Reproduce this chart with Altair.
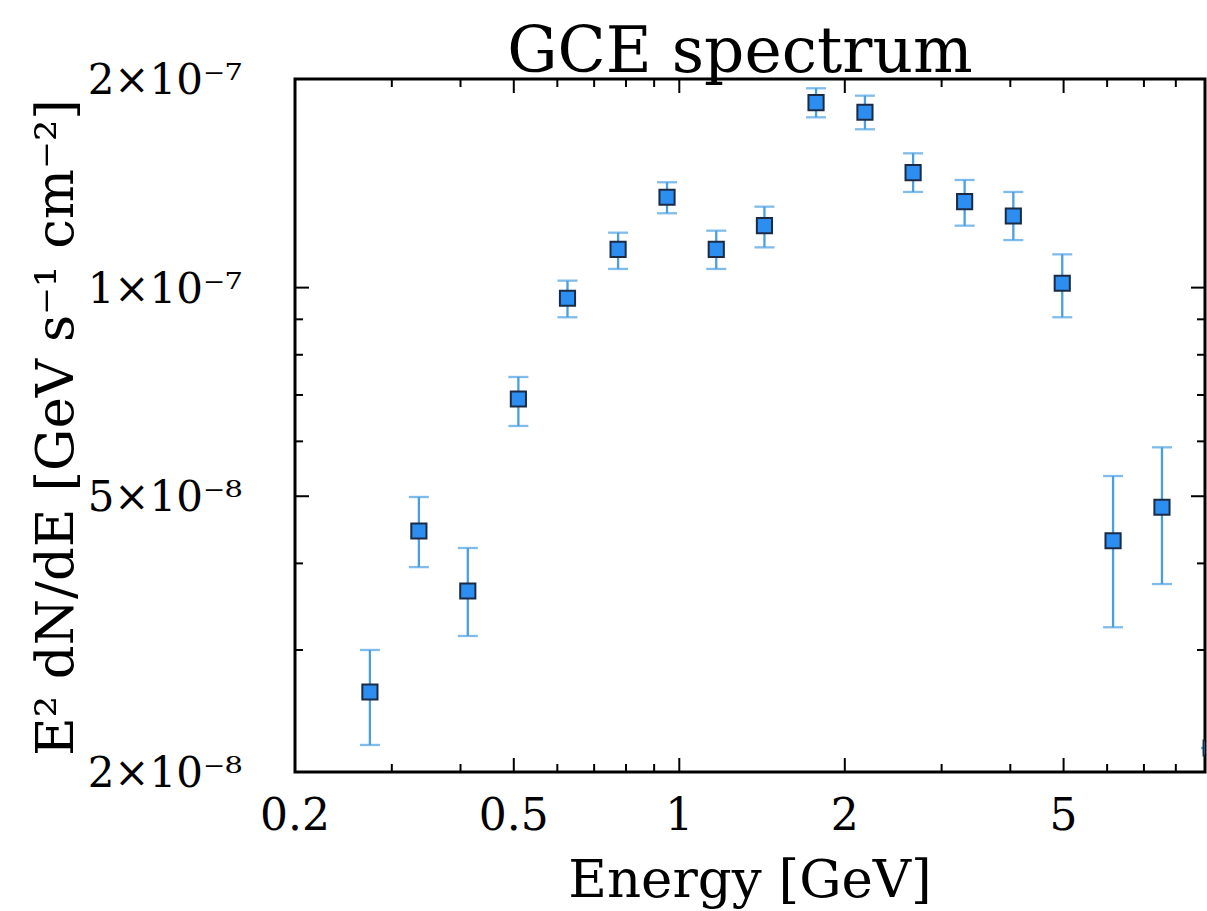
import altair as alt
import pandas as pd

# ---- data ----
energy = [0.2737, 0.3360, 0.4124, 0.5097, 0.6261, 0.7739, 0.9499, 1.1674, 1.4284,
          1.7730, 2.1760, 2.6623, 3.3036, 4.0508, 4.9720, 6.151, 7.549, 9.275]
flux = [2.609e-8, 4.454e-8, 3.649e-8, 6.906e-8, 9.653e-8, 1.1356e-7, 1.3502e-7, 1.1356e-7, 1.2285e-7,
        1.8485e-7, 1.7906e-7, 1.4650e-7, 1.3306e-7, 1.2688e-7, 1.0145e-7, 4.313e-8, 4.820e-8, 2.166e-8]
flux_lo = [2.188e-8, 3.951e-8, 3.143e-8, 6.315e-8, 9.062e-8, 1.0640e-7, 1.2802e-7, 1.0640e-7, 1.1431e-7,
           1.7610e-7, 1.6923e-7, 1.3741e-7, 1.2285e-7, 1.1712e-7, 9.062e-8, 3.235e-8, 3.735e-8, 2.166e-8]
flux_hi = [3.000e-8, 4.987e-8, 4.210e-8, 7.431e-8, 1.0234e-7, 1.2002e-7, 1.4191e-7, 1.2082e-7, 1.3086e-7,
           1.9394e-7, 1.8922e-7, 1.5624e-7, 1.4300e-7, 1.3741e-7, 1.1169e-7, 5.347e-8, 5.882e-8, 2.166e-8]

x_domain = [0.2, 9.04]
y_domain = [2e-8, 2e-7]
x_major = [0.5, 1, 2, 5]
x_minor = [0.3, 0.4, 0.6, 0.7, 0.8, 0.9, 3, 4, 6, 7, 8]
x_label_values = [0.2, 0.5, 1, 2, 5]
x_label_texts = ["0.2", "0.5", "1", "2", "5"]
y_major = [5e-8, 1e-7]
y_minor = [3e-8, 4e-8, 6e-8, 7e-8, 8e-8, 9e-8]
y_label_values = [2e-8, 5e-8, 1e-7, 2e-7]
y_label_texts = ["2×10⁻⁸", "5×10⁻⁸", "1×10⁻⁷", "2×10⁻⁷"]
title_text = ["GCE spectrum"]
x_title = ["Energy [GeV]"]
y_title = ["E² dN/dE [GeV s⁻¹ cm⁻²]"]

FONT = "DejaVu Serif"
W, H = 910, 693
MAJ, MIN = 14, 8

df = pd.DataFrame({"E": energy, "F": flux, "lo": flux_lo, "hi": flux_hi})

xs = alt.Scale(type="log", domain=x_domain, nice=False)
ys = alt.Scale(type="log", domain=y_domain, nice=False)

def X(f):
    return alt.X(f, scale=xs, axis=None)

def Y(f):
    return alt.Y(f, scale=ys, axis=None)

base = alt.Chart(df)
ERR = "#4a9fe3"

errbar = base.mark_rule(color=ERR, strokeWidth=2.3, clip=True).encode(
    x=X("E:Q"), y=Y("lo:Q"), y2="hi:Q")
cap_lo = base.mark_tick(color=ERR, orient="horizontal", size=20, thickness=2.3, clip=True).encode(
    x=X("E:Q"), y=Y("lo:Q"))
cap_hi = base.mark_tick(color=ERR, orient="horizontal", size=20, thickness=2.3, clip=True).encode(
    x=X("E:Q"), y=Y("hi:Q"))
points = base.mark_square(size=230, filled=True, color="#2b8ef0", stroke="#1b2b45",
                          strokeWidth=2, opacity=1, clip=True).encode(
    x=X("E:Q"), y=Y("F:Q"))

layers = [errbar, cap_lo, cap_hi, points]

def xticks(vals, length):
    d = pd.DataFrame({"v": vals})
    bottom = alt.Chart(d).mark_rule(color="black", strokeWidth=2).encode(
        x=X("v:Q"), y=alt.value(H), y2=alt.value(H - length))
    top = alt.Chart(d).mark_rule(color="black", strokeWidth=2).encode(
        x=X("v:Q"), y=alt.value(0), y2=alt.value(length))
    return [bottom, top]

def yticks(vals, length):
    d = pd.DataFrame({"v": vals})
    left = alt.Chart(d).mark_rule(color="black", strokeWidth=2).encode(
        y=Y("v:Q"), x=alt.value(0), x2=alt.value(length))
    right = alt.Chart(d).mark_rule(color="black", strokeWidth=2).encode(
        y=Y("v:Q"), x=alt.value(W), x2=alt.value(W - length))
    return [left, right]

layers += xticks(x_major, MAJ) + xticks(x_minor, MIN) + yticks(y_major, MAJ) + yticks(y_minor, MIN)

# tick labels as text placed through the scales
xl = alt.Chart(pd.DataFrame({"v": x_label_values, "t": x_label_texts})).mark_text(
    font=FONT, fontSize=44, color="black", align="center", baseline="alphabetic").encode(
    x=X("v:Q"), y=alt.value(H + 58), text="t:N")
yl = alt.Chart(pd.DataFrame({"v": y_label_values, "t": y_label_texts})).mark_text(
    font=FONT, fontSize=42, color="black", align="right", baseline="middle", dy=2).encode(
    y=Y("v:Q"), x=alt.value(-53), text="t:N")

xt = alt.Chart(pd.DataFrame({"t": x_title})).mark_text(
    font=FONT, fontSize=53, color="black", align="center", baseline="alphabetic").encode(
    x=alt.value(W / 2), y=alt.value(818), text="t:N")
yt = alt.Chart(pd.DataFrame({"t": y_title})).mark_text(
    font=FONT, fontSize=53, color="black", align="center", baseline="alphabetic", angle=270).encode(
    x=alt.value(-222), y=alt.value(H / 2 + 2), text="t:N")
tt = alt.Chart(pd.DataFrame({"t": title_text})).mark_text(
    font=FONT, fontSize=63, color="black", align="center", baseline="alphabetic").encode(
    x=alt.value(W / 2 - 10), y=alt.value(-7), text="t:N")

layers += [xl, yl, xt, yt, tt]

chart = alt.layer(*layers).properties(
    width=W, height=H,
    autosize=alt.AutoSizeParams(type="none"),
    padding={"left": 295, "top": 79, "right": 2, "bottom": 139},
    background="white",
).configure_view(stroke="black", strokeWidth=3)

chart.save("out.html", embed_options={"renderer": "svg", "actions": False})
